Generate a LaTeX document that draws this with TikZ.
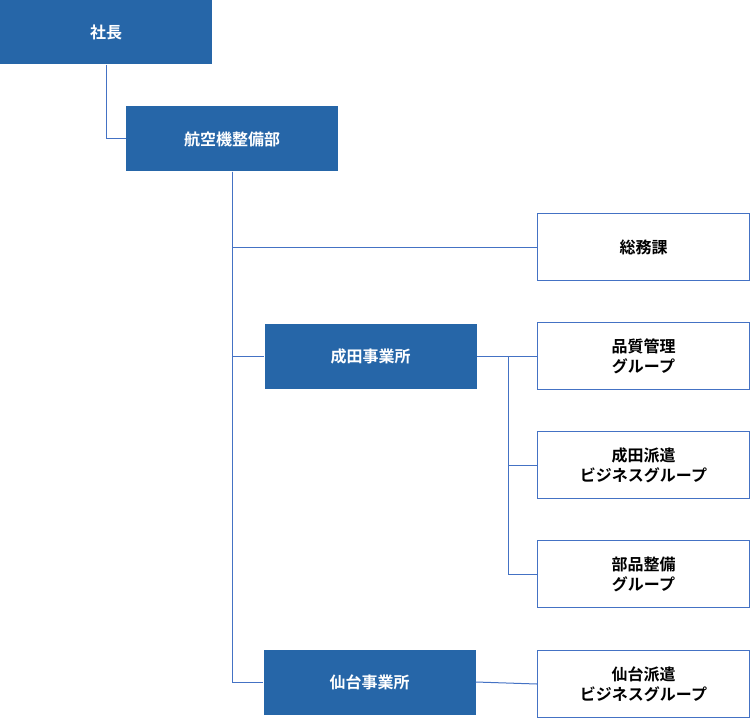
\documentclass[tikz,border=0pt]{standalone}
\usepackage{fontspec}
\usepackage{xcolor}
\usetikzlibrary{positioning}
\setmainfont{Noto Sans CJK JP}[BoldFont={Noto Sans CJK JP Bold}]
\definecolor{deptblue}{HTML}{2666A8}
\definecolor{lineblue}{HTML}{4472C4}
\tikzset{
  dept/.style={rectangle, fill=deptblue, text=white, font=\bfseries\fontsize{16}{20}\selectfont,
    minimum width=212pt, minimum height=65pt, inner sep=0pt, align=center},
  unit/.style={rectangle, draw=lineblue, line width=1pt, fill=white, text=black,
    font=\bfseries\fontsize{16}{20}\selectfont,
    minimum width=212pt, minimum height=67pt, inner sep=0pt, align=center},
  link/.style={draw=lineblue, line width=1pt}
}
\begin{document}
\begin{tikzpicture}[x=1pt, y=-1pt]
\useasboundingbox (0,0) rectangle (751,719);
\node[dept] (shacho) at (106,32) {社長};
\node[dept] (koku) at (232,139) {航空機整備部};
\node[unit] (somu) at (643.5,247) {総務課};
\node[dept] (narita) at (370.5,356) {成田事業所};
\node[unit] (hinshitsu) at (643.5,356) {品質管理\\グループ};
\node[unit] (naritahaken) at (643.5,465) {成田派遣\\ビジネスグループ};
\node[unit] (buhin) at (643.5,574) {部品整備\\グループ};
\node[dept] (sendai) at (369.5,682) {仙台事業所};
\node[unit] (sendaihaken) at (643.5,684) {仙台派遣\\ビジネスグループ};
\coordinate (nbranch) at (508,356);

\draw[link] (shacho.south) |- (koku.west);
\draw[link] (koku.south) |- (somu.west);
\draw[link] (koku.south) |- (narita.west);
\draw[link] (koku.south) |- (sendai.west);
\draw[link] (narita.east) -- (hinshitsu.west);
\draw[link] (nbranch) |- (naritahaken.west);
\draw[link] (nbranch) |- (buhin.west);
\draw[link] (sendai.east) -- (sendaihaken.west);
\end{tikzpicture}
\end{document}
